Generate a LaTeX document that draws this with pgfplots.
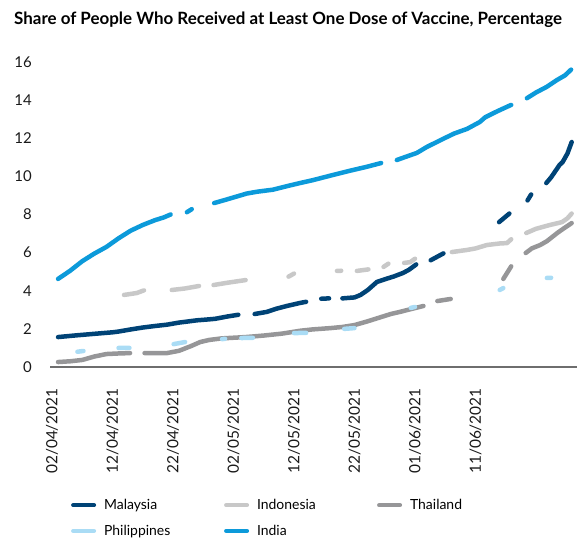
\documentclass[border=0pt]{standalone}
\usepackage{fontspec}
\setmainfont{Lato}
\usepackage{pgfplots}
\pgfplotsset{compat=1.18}
\definecolor{cMal}{RGB}{0,67,118}
\definecolor{cIdn}{RGB}{200,200,200}
\definecolor{cTha}{RGB}{150,150,152}
\definecolor{cPhl}{RGB}{170,220,245}
\definecolor{cInd}{RGB}{12,154,218}
\definecolor{cAx}{RGB}{110,110,110}
\begin{document}
\begin{tikzpicture}
\useasboundingbox (0,0) rectangle (587bp,538bp);
\node[anchor=base west, inner sep=0pt, font=\bfseries\fontsize{17}{20}\selectfont] at (14bp,513bp) {Share of People Who Received at Least One Dose of Vaccine, Percentage};
\begin{axis}[
  at={(50bp,171bp)}, anchor=south west,
  scale only axis, width=527bp, height=305bp,
  xmin=-0.33, xmax=86.78, ymin=0, ymax=16,
  clip=false,
  unbounded coords=jump,
  axis x line*=bottom, axis y line*=left,
  y axis line style={draw=none},
  x axis line style={draw=cAx, line width=1.2bp, -},
  major tick length=0pt,
  ytick={0,2,...,16},
  xtick={0,10,...,70},
  xticklabels={02/04/2021,12/04/2021,22/04/2021,02/05/2021,12/05/2021,22/05/2021,01/06/2021,11/06/2021},
  /pgf/number format/assume math mode=true,
  yticklabel style={font=\fontsize{15}{17}\selectfont, text=black!90, inner sep=0pt, anchor=east, xshift=-18bp},
  xticklabel style={font=\fontsize{15.5}{17}\selectfont, text=black!90, inner sep=0pt, yshift=-21bp, rotate=90, anchor=east},
  every axis plot/.append style={line width=4.5bp, line cap=round, line join=round},
  legend columns=3,
  legend style={at={(0.034,-0.42)}, anchor=north west, draw=none, fill=none,
    font=\fontsize{14}{16}\selectfont, row sep=10bp},
  legend cell align=left,
  legend image code/.code={\draw[line width=4bp, line cap=round] (2bp,0bp) -- (23bp,0bp);},
]
\addplot[cMal] coordinates {(1,1.57) (4,1.66) (7,1.74) (10,1.82) (11,1.86) (13,1.97) (15,2.07) (17,2.15) (19,2.22) (21,2.33) (24,2.45) (26,2.5) (27,2.53) (29,2.65) (30.8,2.74) (32,nan) (33.5,2.78) (35.5,2.89) (37,3.05) (38.8,3.2) (41,3.36) (42,3.42) (43,nan) (44.5,3.58) (45.8,3.6) (47,nan) (48,3.6) (50,3.65) (51,3.78) (52.2,4.04) (53.7,4.46) (55,4.6) (56.5,4.75) (58,4.93) (59,5.1) (60.2,5.38) (61.3,nan) (62.6,5.6) (64.7,5.96) (66,nan) (73.9,7.6) (75.6,8.05) (77,nan) (78.6,8.74) (79.2,9.05) (80.5,nan) (81.7,9.65) (82.5,9.95) (83.9,10.6) (84.4,10.75) (85.2,11.2) (85.9,11.8)};
\addlegendentry{\hspace*{6bp}\makebox[118bp][l]{Malaysia}}
\addplot[cIdn] coordinates {(11.9,3.78) (14,3.88) (15.2,4.02) (17,nan) (19.8,4.04) (22,4.12) (24.3,4.25) (25.5,nan) (26.7,4.3) (29,4.42) (32,4.56) (35,nan) (39.1,4.74) (40,4.9) (43,nan) (47.1,5.04) (47.8,5.05) (49,nan) (50.4,5.04) (52.3,5.12) (53.5,nan) (54.8,5.25) (55.6,5.42) (57,nan) (58.2,5.46) (59.2,5.5) (60,5.68) (63,nan) (66.1,6.03) (68.6,6.14) (70,6.22) (71.9,6.4) (74,6.48) (75.2,6.5) (75.9,6.7) (77,nan) (78.4,7.03) (80,7.25) (82.3,7.45) (84.3,7.6) (85.2,7.8) (85.9,8.05)};
\addlegendentry{\hspace*{6bp}\makebox[118bp][l]{Indonesia}}
\addplot[cTha] coordinates {(1,0.26) (3,0.3) (5,0.37) (7,0.55) (9,0.68) (11,0.71) (12.9,0.73) (14,nan) (15.3,0.73) (19,0.73) (21,0.85) (23,1.1) (24.5,1.31) (26,1.42) (28,1.5) (32,1.57) (35,1.65) (38,1.75) (41,1.9) (43,1.97) (46,2.04) (48,2.1) (50,2.2) (52,2.38) (54.2,2.6) (56,2.78) (57.5,2.89) (59.5,3.05) (61.4,3.2) (62.5,nan) (63.7,3.46) (65.9,3.57) (70,nan) (74.6,4.62) (75.9,5.28) (77,nan) (78.3,5.98) (79.3,6.22) (80.7,6.4) (81.8,6.6) (83.6,7.05) (84.5,7.25) (85.9,7.55)};
\addlegendentry{\hspace*{6bp}\makebox[118bp][l]{Thailand}}
\addplot[cPhl] coordinates {(4.2,0.8) (5.2,0.84) (7,nan) (11,1.0) (12.8,1.0) (15,nan) (20.1,1.2) (22,1.31) (25,nan) (28.1,1.46) (28.6,1.48) (30,nan) (31.3,1.52) (33.2,1.53) (36,nan) (40,1.78) (42,1.79) (45,nan) (48.3,2.0) (50,2.04) (55,nan) (59.3,3.1) (60,3.15) (65,nan) (74,4.04) (74.6,4.14) (78,nan) (81.8,4.67) (82.5,4.68)};
\addlegendentry{\hspace*{6bp}\makebox[118bp][l]{Philippines}}
\addplot[cInd] coordinates {(1,4.62) (3,5.05) (5,5.55) (7,5.95) (9,6.3) (11,6.75) (13,7.15) (15,7.45) (17,7.7) (18.5,7.85) (19.6,8.0) (21,nan) (22.3,8.12) (23.1,8.28) (25,nan) (26.8,8.6) (29,8.8) (32.2,9.1) (34,9.2) (36.5,9.3) (39,9.5) (41,9.65) (43.1,9.8) (46.4,10.07) (49.3,10.3) (52,10.5) (54.4,10.7) (55.5,nan) (57,10.86) (60.3,11.23) (62,11.55) (64.6,11.96) (66.5,12.25) (68.6,12.49) (70.7,12.85) (71.6,13.1) (73.5,13.4) (75.9,13.75) (77,nan) (78.5,14.1) (80,14.4) (81.8,14.7) (83.5,15.06) (84.8,15.3) (85.8,15.6)};
\addlegendentry{\hspace*{6bp}\makebox[118bp][l]{India}}
\end{axis}
\end{tikzpicture}
\end{document}
